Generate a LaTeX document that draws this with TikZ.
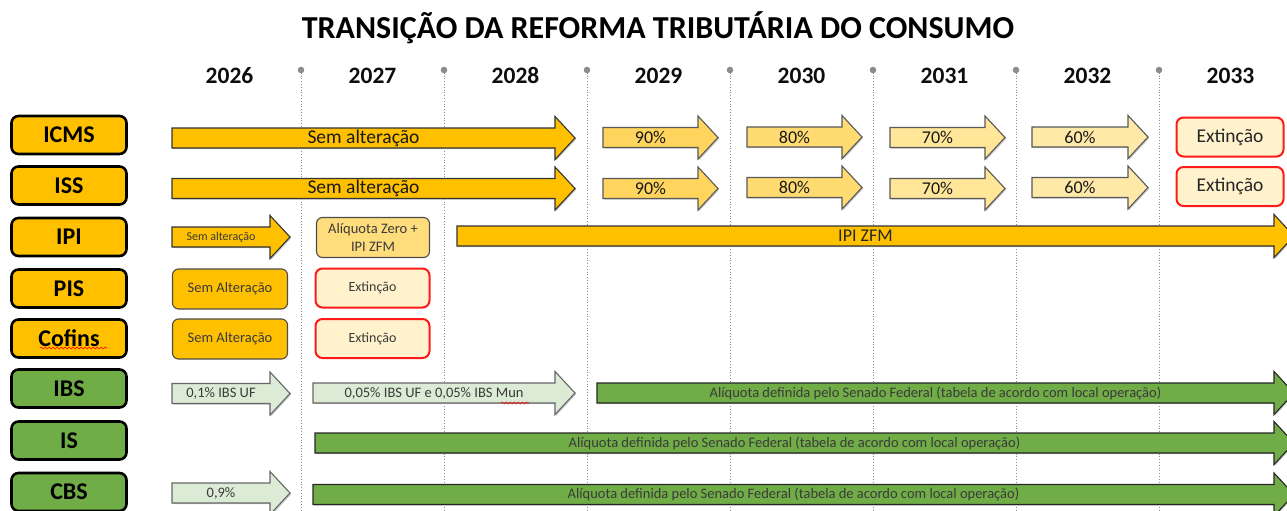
\documentclass[tikz,border=0pt]{standalone}
\usepackage{fontspec}
\setmainfont{Carlito}
\usetikzlibrary{decorations.pathmorphing}
\definecolor{orangeC}{HTML}{FFC000}
\definecolor{gold90}{HTML}{FFD55E}
\definecolor{gold80}{HTML}{FFDB72}
\definecolor{gold70}{HTML}{FFE698}
\definecolor{gold60}{HTML}{FFE9A8}
\definecolor{goldbox}{HTML}{FFDC7C}
\definecolor{creamC}{HTML}{FFF2CC}
\definecolor{greenC}{HTML}{70AD47}
\definecolor{lgreenC}{HTML}{DCEBD5}
\definecolor{redC}{HTML}{FF1A1A}
\definecolor{pinC}{HTML}{8C8C8C}
\definecolor{txtC}{HTML}{3A3A3A}
\newcommand{\fatarrow}[7]{%
  \path[#1] (#3,#5-10) -- (#4-20,#5-10) -- (#4-20,#5-21.5) -- (#4,#5) -- (#4-20,#5+21.5) -- (#4-20,#5+10) -- (#3,#5+10) -- cycle;
  \node[#6] (#2) at ({(#3+#4-20)/2},#5) {#7};
}
\tikzset{
  shade/.style={preaction={fill=black!22, transform canvas={xshift=1.2pt,yshift=-1.2pt}}},
  arrowA/.style={fill=orangeC, draw=black!80, line width=1.1pt, line join=miter, shade},
  arrowL/.style={draw=black!65, line width=1.1pt, line join=miter, shade},
  arrowG/.style={fill=greenC, draw=black!85, line width=1.1pt, line join=miter, shade},
  arrowLG/.style={fill=lgreenC, draw=black!60, line width=1.1pt, line join=miter, shade},
  bigtext/.style={font=\fontsize{19.5}{21}\selectfont, text=black!90, inner sep=0pt},
  pcttext/.style={font=\fontsize{18}{20}\selectfont, text=black!90, inner sep=0pt},
  midtext/.style={font=\fontsize{18}{20}\selectfont, text=black!85, inner sep=0pt},
  smalltext/.style={font=\fontsize{14.5}{16}\selectfont, text=txtC, inner sep=0pt},
  tinytext/.style={font=\fontsize{12}{13}\selectfont, text=txtC, inner sep=0pt},
  labelbox/.style={draw=black, line width=2.6pt, rounded corners=7pt, minimum width=115pt, minimum height=38pt, inner sep=0pt, font=\fontsize{24}{26}\selectfont\bfseries},
  yearlbl/.style={font=\fontsize{23.5}{25}\selectfont\bfseries, text=black!95, inner sep=0pt, anchor=base},
  divider/.style={draw=pinC, dotted, line width=0.8pt},
  extbox/.style={draw=redC, fill=creamC, line width=2pt, rounded corners=7pt, inner sep=0pt},
  graybox/.style={draw=black!70, line width=1.1pt, rounded corners=6pt, inner sep=0pt},
  squiggle/.style={draw=red, line width=0.6pt, decorate, decoration={snake, amplitude=0.9pt, segment length=4pt}}
}
\begin{document}
\begin{tikzpicture}[x=1pt,y=-1pt]
\useasboundingbox (0,0) rectangle (1287,511);
\clip (0,0) rectangle (1287,511);
% title
\node[font=\fontsize{32}{34}\selectfont\bfseries, inner sep=0pt] (title) at (658,28) {TRANSIÇÃO DA REFORMA TRIBUTÁRIA DO CONSUMO};
% dividers
\foreach \i in {1,...,7} {
  \coordinate (p\i) at (158+143*\i,70);
  \coordinate (q\i) at (158+143*\i,511);
  \draw[divider] (p\i) -- (q\i);
  \fill[pinC] (p\i) circle (3.3);
}
% years
\foreach \yr [count=\i from 0] in {2026,2027,2028,2029,2030,2031,2032,2033}
  \node[yearlbl] (y\yr) at (229.5+143*\i,83) {\yr};
% left labels
\node[labelbox, fill=orangeC] (lICMS) at (69,135) {ICMS};
\node[labelbox, fill=orangeC] (lISS) at (69,185.5) {ISS};
\node[labelbox, fill=orangeC] (lIPI) at (69,237) {IPI};
\node[labelbox, fill=orangeC] (lPIS) at (69,288.5) {PIS};
\node[labelbox, fill=orangeC] (lCofins) at (69,338.5) {Cofins};
\node[labelbox, fill=greenC] (lIBS) at (69,388.5) {IBS};
\node[labelbox, fill=greenC] (lIS) at (69,440.5) {IS};
\node[labelbox, fill=greenC] (lCBS) at (69,492) {CBS};
\draw[squiggle] (40,348) -- (107,348);
% ICMS row
\fatarrow{arrowA}{icmsA}{172}{575}{138}{bigtext}{Sem alteração}
\fatarrow{arrowL, fill=gold90}{icms90}{603}{718}{137.5}{pcttext}{90\%}
\fatarrow{arrowL, fill=gold80}{icms80}{747}{862}{137}{pcttext}{80\%}
\fatarrow{arrowL, fill=gold70}{icms70}{890}{1005}{137.5}{pcttext}{70\%}
\fatarrow{arrowL, fill=gold60}{icms60}{1032}{1148}{137}{pcttext}{60\%}
\node[extbox, minimum width=107pt, minimum height=39pt, font=\fontsize{19.5}{21}\selectfont, text=black!85] (icmsE) at (1230,137) {Extinção};
% ISS row
\fatarrow{arrowA}{issA}{172}{575}{188.5}{bigtext}{Sem alteração}
\fatarrow{arrowL, fill=gold90}{iss90}{603}{718}{188.5}{pcttext}{90\%}
\fatarrow{arrowL, fill=gold80}{iss80}{747}{862}{187.5}{pcttext}{80\%}
\fatarrow{arrowL, fill=gold70}{iss70}{890}{1005}{188.5}{pcttext}{70\%}
\fatarrow{arrowL, fill=gold60}{iss60}{1032}{1148}{187.5}{pcttext}{60\%}
\node[extbox, minimum width=107pt, minimum height=39pt, font=\fontsize{19.5}{21}\selectfont, text=black!85] (issE) at (1230,186.5) {Extinção};
% IPI row
\fatarrow{arrowA}{ipiA}{172}{290}{237}{tinytext}{Sem alteração}
\node[graybox, fill=goldbox, minimum width=113pt, minimum height=40pt, align=center, font=\fontsize{14.5}{18}\selectfont, text=txtC] (ipiZ) at (373,237.5) {Alíquota Zero +\\IPI ZFM};
\fatarrow{arrowA}{ipiZFM}{457}{1294}{236}{midtext}{IPI ZFM}
% PIS row
\node[graybox, fill=orangeC, minimum width=115pt, minimum height=40pt, font=\fontsize{14.5}{16}\selectfont, text=txtC] (pisS) at (230,289) {Sem Alteração};
\node[extbox, minimum width=114pt, minimum height=39pt, font=\fontsize{14}{16}\selectfont, text=txtC] (pisE) at (372.5,288) {Extinção};
% Cofins row
\node[graybox, fill=orangeC, minimum width=115pt, minimum height=40pt, font=\fontsize{14.5}{16}\selectfont, text=txtC] (cofS) at (230,339) {Sem Alteração};
\node[extbox, minimum width=114pt, minimum height=39pt, font=\fontsize{14}{16}\selectfont, text=txtC] (cofE) at (372.5,338.5) {Extinção};
% IBS row
\fatarrow{arrowLG}{ibs1}{172}{290}{393.5}{smalltext}{0,1\% IBS UF}
\fatarrow{arrowLG}{ibs2}{313}{575}{393}{smalltext}{0,05\% IBS UF e 0,05\% IBS Mun}
\draw[squiggle] (501,403) -- (529,403);
\fatarrow{arrowG}{ibs3}{597}{1294}{393}{smalltext}{Alíquota definida pelo Senado Federal (tabela de acordo com local operação)}
% IS row
\fatarrow{arrowG}{isA}{315}{1294}{443}{smalltext}{Alíquota definida pelo Senado Federal (tabela de acordo com local operação)}
% CBS row
\fatarrow{arrowLG}{cbs1}{172}{290}{493}{smalltext}{0,9\%}
\fatarrow{arrowG}{cbs2}{313}{1294}{494.5}{smalltext}{Alíquota definida pelo Senado Federal (tabela de acordo com local operação)}
\end{tikzpicture}
\end{document}
